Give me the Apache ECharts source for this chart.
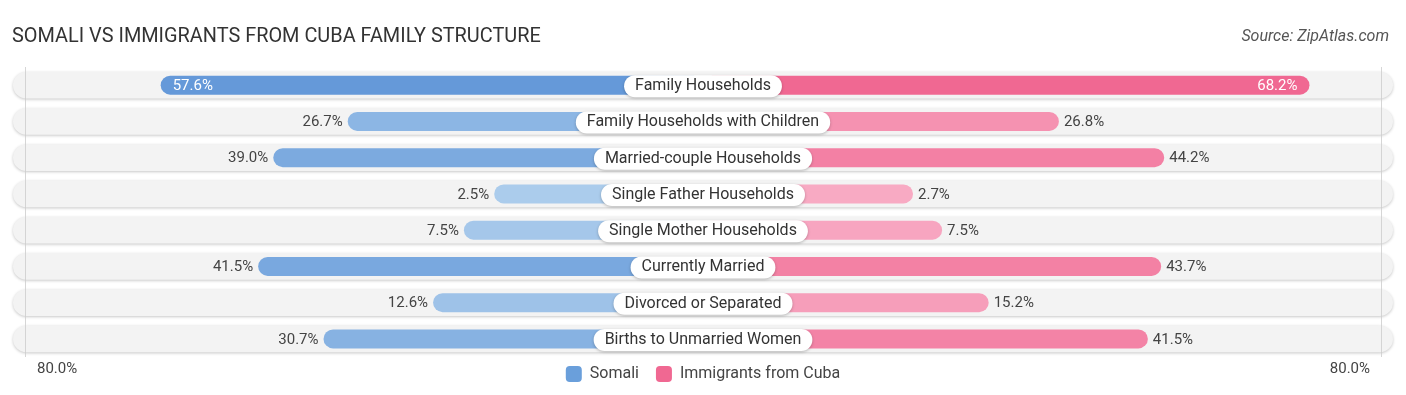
<!DOCTYPE html>
<html>
<head>
<meta charset="utf-8">
<script src="https://cdn.jsdelivr.net/npm/echarts@6/dist/echarts.min.js"></script>
<style>
html,body{margin:0;padding:0;background:#fff;}
#c{width:1406px;height:395px;}
</style>
</head>
<body>
<div id="c"></div>
<script>
const categories = ['Family Households','Family Households with Children','Married-couple Households','Single Father Households','Single Mother Households','Currently Married','Divorced or Separated','Births to Unmarried Women'];
const somali = [57.6, 26.7, 39.0, 2.5, 7.5, 41.5, 12.6, 30.7];
const cuba = [68.2, 26.8, 44.2, 2.7, 7.5, 43.7, 15.2, 41.5];
const axisTickLabels = ['80.0%', '80.0%'];
const seriesNames = ['Somali', 'Immigrants from Cuba'];

const OFFSET = 32;     // space reserved for the centre label (in % units)
const AX = 114;        // half extent of the axis
const FONT = 'Roboto, "Noto Sans", sans-serif';

function mix(c1, c2, t) {
  t = Math.max(0, Math.min(1, t));
  const a = c1.match(/\w\w/g).map(h => parseInt(h, 16));
  const b = c2.match(/\w\w/g).map(h => parseInt(h, 16));
  return '#' + a.map((v, i) => Math.round(v + (b[i] - v) * t).toString(16).padStart(2, '0')).join('');
}
const blue = v => mix('acccec', '6499d9', (v - 2) / 56);
const pink = v => mix('f8abc4', 'f06892', (v - 2) / 66);

const INSIDE_MIN = 50;

const chart = echarts.init(document.getElementById('c'), null, {renderer: 'canvas'});

const valueLabel = (v, inside, side) => inside
  ? {show: true, position: side === 'l' ? 'insideLeft' : 'insideRight', distance: 12, offset: [0, 1], color: '#fff', fontSize: 15, fontFamily: FONT, formatter: v.toFixed(1) + '%'}
  : {show: true, position: side === 'l' ? 'left' : 'right', distance: 5, offset: [0, 1], color: '#444', fontSize: 15, fontFamily: FONT, formatter: v.toFixed(1) + '%'};

const option = {
  animation: false,
  textStyle: {fontFamily: FONT},
  title: [{
    text: 'SOMALI VS IMMIGRANTS FROM CUBA FAMILY STRUCTURE',
    left: 7, top: 22,
    textStyle: {fontFamily: FONT, fontSize: 19.9, fontWeight: 'normal', color: '#333'}
  }, {
    text: 'Source: ZipAtlas.com',
    right: 12, top: 24,
    textStyle: {fontFamily: FONT, fontSize: 16, fontWeight: 'normal', fontStyle: 'italic', color: '#555'}
  }],
  legend: {
    data: seriesNames,
    left: 'center', top: 361,
    itemWidth: 16, itemHeight: 16, itemGap: 17,
    icon: 'roundRect',
    textStyle: {fontFamily: FONT, fontSize: 16, color: '#444', padding: [0, 0, 0, 3]}
  },
  grid: {left: 13, right: 13, top: 67, bottom: 38},
  xAxis: {
    type: 'value', min: -AX, max: AX,
    axisLine: {show: false}, axisTick: {show: false}, axisLabel: {show: false}, splitLine: {show: false}
  },
  yAxis: {
    type: 'category', data: categories, inverse: true,
    axisLine: {show: false}, axisTick: {show: false}, axisLabel: {show: false}, splitLine: {show: false}
  },
  graphic: [
    {type: 'text', left: 37, top: 362, style: {text: axisTickLabels[0], font: '15px ' + FONT, fill: '#444'}},
    {type: 'text', right: 36, top: 362, style: {text: axisTickLabels[1], font: '15px ' + FONT, fill: '#444'}}
  ],
  series: [
    {
      type: 'custom',
      silent: true,
      z: 1,
      data: categories.map((c, i) => [0, i]),
      encode: {x: 0, y: 1},
      renderItem: function (params, api) {
        const yi = api.value(1);
        const l = api.coord([-AX, yi]);
        const r = api.coord([AX, yi]);
        const h = api.size([0, 1])[1] * 0.74;
        return {
          type: 'rect',
          shape: {x: l[0], y: l[1] - h / 2, width: r[0] - l[0], height: h, r: h / 2},
          style: {fill: '#f3f3f3', shadowBlur: 3, shadowOffsetY: 1, shadowColor: 'rgba(0,0,0,0.22)'}
        };
      }
    },
    {
      name: seriesNames[0],
      type: 'bar',
      z: 3,
      barWidth: 19,
      barGap: '-100%',
      itemStyle: {color: '#6a9fdb', borderRadius: 10},
      markLine: {
        silent: true, symbol: 'none', label: {show: false},
        lineStyle: {color: '#ccc', width: 1, type: 'solid', opacity: 0.8},
        data: [{xAxis: -(80 + OFFSET)}, {xAxis: 80 + OFFSET}]
      },
      data: somali.map(v => ({
        value: -(v + OFFSET),
        itemStyle: {color: blue(v)},
        label: valueLabel(v, v >= INSIDE_MIN, 'l')
      }))
    },
    {
      name: seriesNames[1],
      type: 'bar',
      z: 3,
      barWidth: 19,
      barGap: '-100%',
      itemStyle: {color: '#f06892', borderRadius: 10},
      data: cuba.map(v => ({
        value: v + OFFSET,
        itemStyle: {color: pink(v)},
        label: valueLabel(v, v >= INSIDE_MIN, 'r')
      }))
    },
    {
      type: 'custom',
      silent: true,
      z: 6,
      data: categories.map((c, i) => [0, i]),
      encode: {x: 0, y: 1},
      renderItem: function (params, api) {
        const p = api.coord([0, api.value(1)]);
        return {
          type: 'text',
          x: p[0], y: p[1] + 1,
          style: {
            text: categories[params.dataIndex],
            font: '16px ' + FONT, fill: '#333',
            align: 'center', verticalAlign: 'middle',
            backgroundColor: '#fff', borderRadius: 12,
            padding: [3, 11, 3, 11],
            shadowBlur: 3, shadowOffsetY: 1, shadowColor: 'rgba(0,0,0,0.25)'
          }
        };
      }
    }
  ]
};
chart.setOption(option);
</script>
</body>
</html>
